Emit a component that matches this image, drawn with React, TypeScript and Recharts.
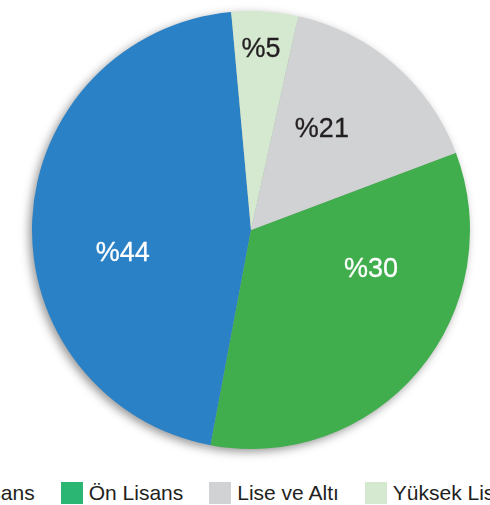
import React from "react";
import { PieChart, Pie, Cell, Legend } from "recharts";

const categories = ["Lisans", "Ön Lisans", "Lise ve Altı", "Yüksek Lisans"];
const shares = [45.6, 33.7, 15.8, 4.9];
const labelTexts = ["%44", "%30", "%21", "%5"];

const sliceColors = ["#2a81c5", "#40ae4c", "#d1d2d4", "#d5e9d1"];
const legendColors = ["#2a81c5", "#2bb673", "#d1d2d4", "#d5e9d1"];
const labelColors = ["#ffffff", "#ffffff", "#231f20", "#231f20"];
// label placement tweaks (angle shift in degrees, radius fraction)
const labelAngleShift = [12.6, 22.2, 6, 0.5];
const labelRadiusFrac = [0.594, 0.575, 0.566, 0.83];

const data = categories.map((name, i) => ({ name, value: shares[i] }));

const FONT = "'Liberation Sans', Arial, Helvetica, sans-serif";
const RADIAN = Math.PI / 180;

const renderLabel = (props: any) => {
  const { cx, cy, midAngle, outerRadius, index } = props;
  const a = (midAngle + labelAngleShift[index]) * RADIAN;
  const r = outerRadius * labelRadiusFrac[index];
  const x = cx + r * Math.cos(-a);
  const y = cy + r * Math.sin(-a);
  return (
    <text
      x={x}
      y={y}
      textAnchor="middle"
      dominantBaseline="central"
      fill={labelColors[index]}
      stroke={labelColors[index]}
      strokeWidth={0.3}
      fontSize={27}
      fontFamily={FONT}
    >
      {labelTexts[index]}
    </text>
  );
};

const renderLegend = () => (
  <div
    style={{
      display: "flex",
      flexWrap: "nowrap",
      whiteSpace: "nowrap",
      alignItems: "center",
      fontFamily: FONT,
      fontSize: 21,
      color: "#231f20",
    }}
  >
    {categories.map((c, i) => (
      <div key={c} style={{ display: "flex", alignItems: "center", marginRight: 26 }}>
        <span
          style={{
            display: "inline-block",
            width: 22,
            height: 22,
            background: legendColors[i],
            marginRight: 6,
          }}
        />
        <span>{c}</span>
      </div>
    ))}
  </div>
);

export default function App() {
  return (
    <div style={{ position: "absolute", left: 0, top: 0, width: 490, height: 505, overflow: "hidden", background: "#fff" }}>
      <style>{`.pie-shadow { filter: blur(3px); }`}</style>
      <PieChart width={490} height={505} margin={{ top: 0, right: 0, bottom: 0, left: 0 }}>
        <Pie
          className="pie-shadow"
          data={data}
          dataKey="value"
          nameKey="name"
          cx={248}
          cy={233}
          outerRadius={219}
          startAngle={95.2}
          endAngle={455.2}
          fill="rgba(0,0,0,0.4)"
          stroke="none"
          label={false}
          labelLine={false}
          legendType="none"
          isAnimationActive={false}
        />
        <Pie
          data={data}
          dataKey="value"
          nameKey="name"
          cx={251}
          cy={230}
          outerRadius={219}
          startAngle={95.2}
          endAngle={455.2}
          stroke="none"
          label={renderLabel}
          labelLine={false}
          isAnimationActive={false}
        >
          {data.map((d, i) => (
            <Cell key={d.name} fill={sliceColors[i]} stroke="none" />
          ))}
        </Pie>
        <Legend
          content={renderLegend}
          wrapperStyle={{ left: -54, top: 481, width: 640, bottom: "auto" }}
        />
      </PieChart>
    </div>
  );
}
